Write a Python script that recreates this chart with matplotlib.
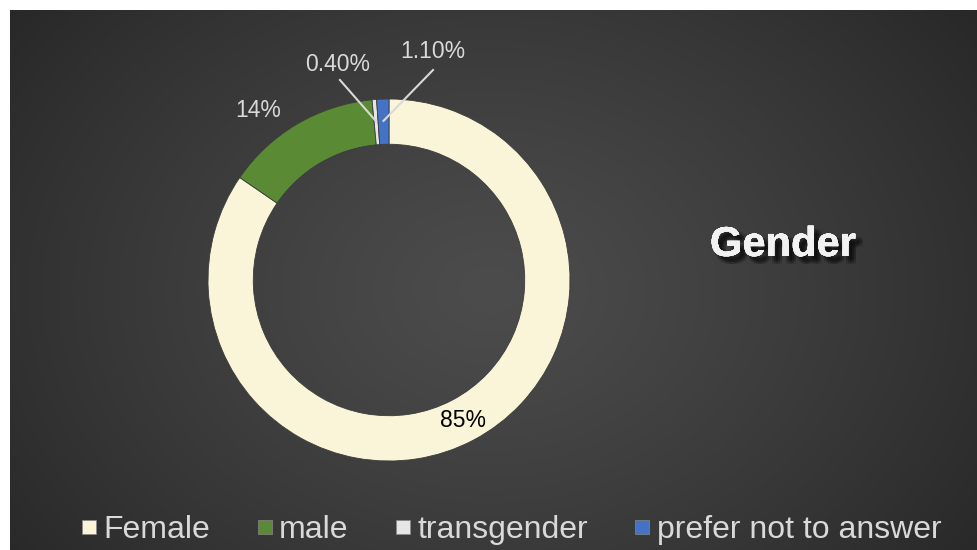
import numpy as np
import matplotlib
matplotlib.use("Agg")
import matplotlib.pyplot as plt
import matplotlib.patheffects as pe
from matplotlib.lines import Line2D

plt.rcParams["font.family"] = ["Liberation Sans", "DejaVu Sans"]

# data
categories = ["Female", "male", "transgender", "prefer not to answer"]
shares = [85, 14, 0.4, 1.1]
pct_labels = ["85%", "14%", "0.40%", "1.10%"]
colors = ["#faf5d8", "#5a8a33", "#e6e6e6", "#4472c4"]

W, H = 978, 550
fig = plt.figure(figsize=(W / 100, H / 100), dpi=100, facecolor="white")

# dark panel with radial gradient
bg = fig.add_axes([10 / W, 0, (W - 10) / W, (H - 10) / H])
yy, xx = np.mgrid[0:540, 0:968]
d = np.sqrt((xx - 480) ** 2 + ((yy - 280) * 1.3) ** 2) / 620
d = np.clip(d, 0, 1)
inner, outer = 0x4c / 255, 0x27 / 255
shade = inner + (outer - inner) * d ** 1.2
img = np.dstack([shade, shade, shade])
bg.imshow(img, aspect="auto", extent=[0, 1, 0, 1], origin="upper")
bg.set_axis_off()

# donut
cx, cy, R = 389, 270, 181
ax = fig.add_axes([(cx - R) / W, (cy - R) / H, 2 * R / W, 2 * R / H])
wedges, _ = ax.pie(shares, colors=colors, startangle=90, counterclock=False,
                   radius=1, wedgeprops=dict(width=0.25, edgecolor="#3c3c3c", linewidth=0.6))
ax.set_xlim(-1, 1)
ax.set_ylim(-1, 1)
ax.set_aspect("equal")
ax.set_axis_off()


def mid(w, r):
    a = np.deg2rad((w.theta1 + w.theta2) / 2)
    return r * np.cos(a), r * np.sin(a)


lab_color = "#d9d9d9"
# 85% inside the ring
x, y = mid(wedges[0], 0.875)
ax.text(x, y, pct_labels[0], ha="center", va="center", fontsize=16.5, color="black")
# 14% outside
ax.text(-0.724, 0.934, pct_labels[1], ha="center", va="center", fontsize=16.5, color=lab_color)
# small slices with leader lines
for i, (tx, ty, lx, ly) in zip([2, 3], [(-0.282, 1.193, -0.271, 1.105), (0.243, 1.26, 0.243, 1.16)]):
    ex, ey = mid(wedges[i], 0.88)
    ax.plot([lx, ex], [ly, ey], color=lab_color, lw=1.5, clip_on=False)
    ax.text(tx, ty, pct_labels[i], ha="center", va="center", fontsize=16.5, color=lab_color)

# title with soft shadow
shadow = [pe.withSimplePatchShadow(offset=(4 + dx, -4 + dy), shadow_rgbFace="black", alpha=0.12)
          for dx in (-1.5, 0, 1.5) for dy in (-1.5, 0, 1.5)]
fig.text(783 / W, 1 - 245 / H, "Gender", ha="center", va="center", fontsize=30,
         fontweight="bold", color="#f2f2f2", path_effects=shadow + [pe.Normal()])

# legend
handles = [Line2D([], [], marker="s", ls="", markersize=10, markerfacecolor=c,
                  markeredgecolor="#888888", markeredgewidth=0.5) for c in colors]
fig.legend(handles, categories, loc="center", bbox_to_anchor=(512 / W, 1 - 530 / H), ncol=4,
           frameon=False, fontsize=23, labelcolor=lab_color, handlelength=0.4,
           handletextpad=0.25, columnspacing=1.5, borderpad=0)

fig.savefig("out.png", dpi=100, facecolor="white")
